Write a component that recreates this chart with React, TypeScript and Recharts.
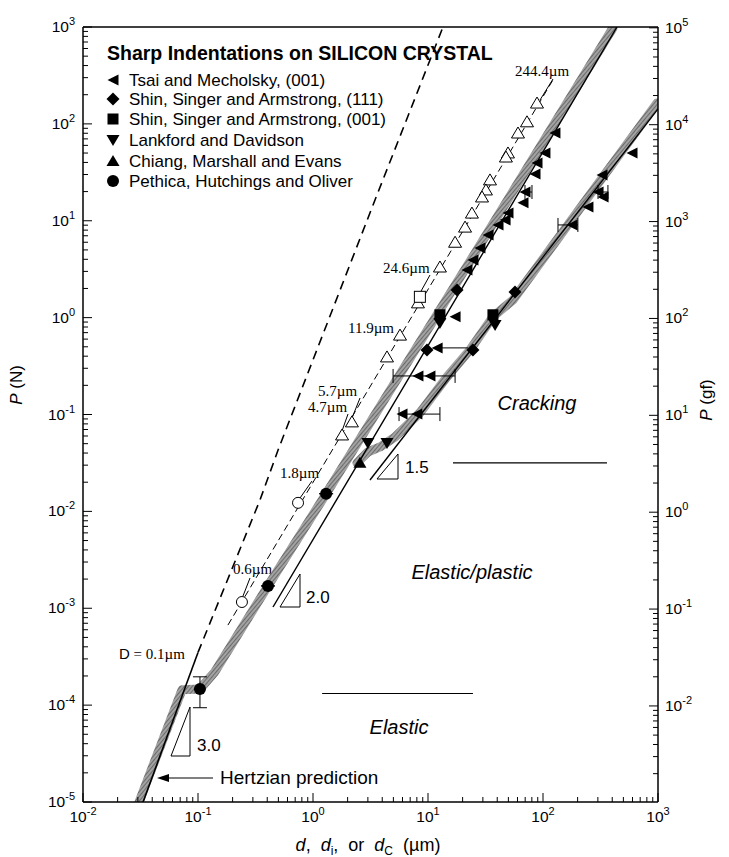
import React from "react";
import { ComposedChart, Line, Scatter, XAxis, YAxis, ReferenceLine, ErrorBar, Customized } from "recharts";

const SANS = '"Liberation Sans", Arial, Helvetica, sans-serif';
const SERIF = '"Liberation Serif", "Times New Roman", serif';

// axes: d in µm, P in N (left) and gf (right)
const X_DOMAIN = [0.01, 1000];
const Y_DOMAIN = [1e-5, 1e3];
const GF_PER_N = 101.97;
const GF_DOMAIN = [Y_DOMAIN[0] * GF_PER_N, Y_DOMAIN[1] * GF_PER_N];

// every 1..9 x 10^e inside [lo, hi]
function logTicks(lo: number, hi: number) {
  const out: number[] = [];
  for (let e = Math.floor(Math.log10(lo)); e <= Math.ceil(Math.log10(hi)); e++) {
    for (let m = 1; m <= 9; m++) {
      const v = m * Math.pow(10, e);
      if (v >= lo * 0.999 && v <= hi * 1.001) out.push(v);
    }
  }
  return out;
}
const X_TICKS = logTicks(X_DOMAIN[0], X_DOMAIN[1]);
const Y_TICKS = logTicks(Y_DOMAIN[0], Y_DOMAIN[1]);
const GF_TICKS = logTicks(GF_DOMAIN[0], GF_DOMAIN[1]);

// Hertzian prediction: solid up to D = 0.1 µm, dashed above
const hertzSolid = [
  { d: 0.0333, p: 1e-5 },
  { d: 0.1, p: 3.5e-4 },
];
const hertzDashed = [
  { d: 0.1, p: 3.5e-4 },
  { d: 0.346, p: 0.0131 },
  { d: 0.497, p: 0.043 },
  { d: 3.46, p: 16.4 },
  { d: 13.5, p: 1000 },
];

// grey bands
const bandUpper = [
  { d: 0.0307, p: 1e-5 },
  { d: 0.0726, p: 1.44e-4 },
  { d: 0.104, p: 1.47e-4 },
  { d: 0.14, p: 2.2e-4 },
  { d: 0.406, p: 1.7e-3 },
  { d: 1.3, p: 0.0152 },
  { d: 26.7, p: 5.0 },
  { d: 406, p: 980 },
];
const bandLower = [
  { d: 2.41, p: 0.0317 },
  { d: 3.0, p: 0.041 },
  { d: 3.83, p: 0.0463 },
  { d: 5.17, p: 0.0587 },
  { d: 8.5, p: 0.104 },
  { d: 14.6, p: 0.244 },
  { d: 23.2, p: 0.464 },
  { d: 36.7, p: 1.02 },
  { d: 54.8, p: 1.52 },
  { d: 980, p: 164 },
];

// slope 2.0 and 1.5 reference lines
const lineSlope2 = [
  { d: 0.449, p: 1.03e-3 },
  { d: 440, p: 1000 },
];
const lineSlope15 = [
  { d: 3.13, p: 0.0211 },
  { d: 1000, p: 143 },
];
// thin dashed line through the open symbols
const lineOpen = [
  { d: 0.182, p: 6.7e-4 },
  { d: 122, p: 284 },
];

// Tsai and Mecholsky, (001)
const tsai = [
  { d: 127, p: 80.5 }, { d: 104, p: 50.1 }, { d: 88.7, p: 39.5 }, { d: 85.2, p: 30.4 },
  { d: 67.0, p: 15.3 }, { d: 49.6, p: 12.0 }, { d: 46.8, p: 10.2 }, { d: 40.6, p: 9.05 },
  { d: 33.3, p: 7.13 }, { d: 28.3, p: 5.24 }, { d: 24.6, p: 3.94 }, { d: 21.8, p: 3.1 },
  { d: 17.2, p: 1.02 }, { d: 10.4, p: 0.25 }, { d: 8.0, p: 0.101 },
  { d: 594, p: 50.1 }, { d: 326, p: 29.7 }, { d: 333, p: 17.6 }, { d: 246, p: 13.9 },
];
const tsaiBars = [
  { d: 8.18, p: 0.25, ex: [3.21, 9.02] },
  { d: 5.94, p: 0.101, ex: [0.34, 6.76] },
  { d: 179, p: 9.05, ex: [44, 22] },
  { d: 301, p: 19.8, ex: [0, 66] },
  { d: 69.7, p: 19.8, ex: [0, 10.5] },
];
const tsaiArrow = [{ d: 12.0, p: 0.487, ex: [0, 10.3] }];

const shin111 = [
  { d: 17.9, p: 1.93 }, { d: 9.8, p: 0.464 }, { d: 24.6, p: 0.464 }, { d: 57.1, p: 1.84 },
];
const shin001 = [
  { d: 12.7, p: 1.07 }, { d: 36.7, p: 1.07 },
];
const lankford = [
  { d: 12.7, p: 0.88 }, { d: 38.3, p: 0.84 }, { d: 3.0, p: 0.0509 }, { d: 4.4, p: 0.0509 },
];
const chiang = [{ d: 2.56, p: 0.0317 }];
const pethica = [
  { d: 0.104, p: 1.47e-4, ey: [5.3e-5, 4.9e-5] },
  { d: 0.406, p: 1.7e-3, ey: [0, 0] },
  { d: 1.3, p: 0.0152, ey: [0, 0] },
];

// open symbols on the thin dashed line
const openTri = [
  { d: 88.7, p: 164 }, { d: 72.6, p: 105 }, { d: 60.6, p: 80.5 }, { d: 49.6, p: 50.1 },
  { d: 47.6, p: 45.5 }, { d: 34.6, p: 26.4 }, { d: 31.9, p: 20.8 }, { d: 29.5, p: 17.6 },
  { d: 24.1, p: 12.0 }, { d: 21.0, p: 8.6 }, { d: 17.2, p: 6.0 }, { d: 12.7, p: 3.33 },
  { d: 8.18, p: 1.42 }, { d: 5.71, p: 0.66 }, { d: 4.4, p: 0.393 }, { d: 2.18, p: 0.0839 },
  { d: 1.79, p: 0.0615 },
];
const openSquare = [{ d: 8.5, p: 1.64 }];
const openCircle = [
  { d: 0.741, p: 0.01225 }, { d: 0.241, p: 1.16e-3 },
];

// region boundaries
const crackLine = { p: 0.0317, from: 16.5, to: 360 };
const elasticLine = { p: 1.32e-4, from: 1.2, to: 24.6 };

const LEGEND_LABELS = [
  "Tsai and Mecholsky, (001)",
  "Shin, Singer and Armstrong, (111)",
  "Shin, Singer and Armstrong, (001)",
  "Lankford and Davidson",
  "Chiang, Marshall and Evans",
  "Pethica, Hutchings and Oliver",
];

const MARK = {
  left: (cx: number, cy: number) => (
    <polygon points={`${cx - 5.5},${cy} ${cx + 5.5},${cy - 5.5} ${cx + 5.5},${cy + 5.5}`} fill="#000" />
  ),
  diamond: (cx: number, cy: number) => (
    <polygon points={`${cx},${cy - 6.5} ${cx + 6.5},${cy} ${cx},${cy + 6.5} ${cx - 6.5},${cy}`} fill="#000" />
  ),
  square: (cx: number, cy: number) => <rect x={cx - 5.5} y={cy - 5.5} width={11} height={11} fill="#000" />,
  down: (cx: number, cy: number) => (
    <polygon points={`${cx - 6.5},${cy - 5} ${cx + 6.5},${cy - 5} ${cx},${cy + 6}`} fill="#000" />
  ),
  up: (cx: number, cy: number) => (
    <polygon points={`${cx - 6.5},${cy + 5} ${cx + 6.5},${cy + 5} ${cx},${cy - 6}`} fill="#000" />
  ),
  dot: (cx: number, cy: number) => <circle cx={cx} cy={cy} r={6} fill="#000" />,
  openUp: (cx: number, cy: number) => (
    <polygon points={`${cx - 6.5},${cy + 5} ${cx + 6.5},${cy + 5} ${cx},${cy - 6}`} fill="#fff" stroke="#000" strokeWidth={1} />
  ),
  openSquare: (cx: number, cy: number) => (
    <rect x={cx - 5.5} y={cy - 5.5} width={11} height={11} fill="#fff" stroke="#000" strokeWidth={1} />
  ),
  openDot: (cx: number, cy: number) => <circle cx={cx} cy={cy} r={5.5} fill="#fff" stroke="#000" strokeWidth={1} />,
};
const LEGEND_MARKS = [MARK.left, MARK.diamond, MARK.square, MARK.down, MARK.up, MARK.dot];

const isMajor = (v: number) => {
  const e = Math.round(Math.log10(v));
  return Math.abs(v / Math.pow(10, e) - 1) < 1e-6;
};
const expOf = (v: number) => Math.round(Math.log10(v));

const Pow = ({ x, y, v, anchor }: { x: number; y: number; v: number; anchor: "start" | "middle" | "end" }) => (
  <text x={x} y={y} textAnchor={anchor} fontFamily={SANS} fontSize={15.5} fill="#000">
    10
    <tspan dy={-7} fontSize={11}>
      {expOf(v)}
    </tspan>
  </text>
);

function BottomTick(props: any) {
  const { x, y, payload } = props;
  const major = isMajor(payload.value);
  return (
    <g>
      <line x1={x} x2={x} y1={y} y2={y - (major ? 9 : 5)} stroke="#000" strokeWidth={1} />
      {major && <Pow x={x} y={y + 20} v={payload.value} anchor="middle" />}
    </g>
  );
}
function TopTick(props: any) {
  const { x, y, payload } = props;
  const major = isMajor(payload.value);
  return <line x1={x} x2={x} y1={y} y2={y + (major ? 9 : 5)} stroke="#000" strokeWidth={1} />;
}
function LeftTick(props: any) {
  const { x, y, payload } = props;
  const major = isMajor(payload.value);
  return (
    <g>
      <line x1={x} x2={x + (major ? 9 : 5)} y1={y} y2={y} stroke="#000" strokeWidth={1} />
      {major && <Pow x={x - 8} y={y + 5} v={payload.value} anchor="end" />}
    </g>
  );
}
function RightTick(props: any) {
  const { x, y, payload } = props;
  const major = isMajor(payload.value);
  return (
    <g>
      <line x1={x} x2={x - (major ? 9 : 5)} y1={y} y2={y} stroke="#000" strokeWidth={1} />
      {major && <Pow x={x + 7} y={y + 5} v={payload.value} anchor="start" />}
    </g>
  );
}

function Annotations() {
  const thin = { stroke: "#000", strokeWidth: 1, fill: "none" };
  const serif = { fontFamily: SERIF, fontSize: 15, fill: "#000" };
  const sans = { fontFamily: SANS, fill: "#000" };
  return (
    <g>
      {/* legend */}
      <text x={107} y={60} {...sans} fontSize={19.5} fontWeight="bold">
        Sharp Indentations on SILICON CRYSTAL
      </text>
      {LEGEND_LABELS.map((label, i) => {
        const y = [80, 99, 119, 140, 161, 181][i];
        return (
          <g key={label}>
            {LEGEND_MARKS[i](113, y)}
            <text x={129} y={y + 6} {...sans} fontSize={17}>
              {label}
            </text>
          </g>
        );
      })}

      {/* depth labels with leaders */}
      <text x={515} y={76} {...serif}>244.4µm</text>
      <line x1={553} y1={79} x2={540} y2={100} {...thin} />
      <text x={383} y={273} {...serif}>24.6µm</text>
      <line x1={430} y1={275} x2={420} y2={293} {...thin} />
      <text x={348} y={333} {...serif}>11.9µm</text>
      <text x={318} y={396} {...serif}>5.7µm</text>
      <line x1={360} y1={398} x2={352} y2={418} {...thin} />
      <text x={308} y={412} {...serif}>4.7µm</text>
      <line x1={348} y1={414} x2={342} y2={431} {...thin} />
      <text x={280} y={478} {...serif}>1.8µm</text>
      <line x1={312} y1={481} x2={300} y2={498} {...thin} />
      <text x={233} y={574} {...serif}>0.6µm</text>
      <line x1={250} y1={578} x2={243} y2={596} {...thin} />
      <text x={119} y={659} {...serif}>
        <tspan fontFamily={SANS}>D</tspan> = 0.1µm
      </text>

      {/* slope triangles */}
      <polygon points="171,756 190,707 190,756" {...thin} />
      <text x={197} y={751} {...sans} fontSize={17}>3.0</text>
      <polygon points="280,607 300,574 300,607" {...thin} />
      <text x={306} y={603} {...sans} fontSize={17}>2.0</text>
      <polygon points="377,479 398,454 398,479" {...thin} />
      <text x={405} y={473} {...sans} fontSize={17}>1.5</text>

      {/* Hertzian arrow */}
      <line x1={213} y1={778} x2={166} y2={778} {...thin} />
      <polygon points="157,778 169,774 169,782" fill="#000" />
      <text x={220} y={784} {...sans} fontSize={19}>Hertzian prediction</text>

      {/* regions */}
      <text x={537} y={410} {...sans} fontSize={20} fontStyle="italic" textAnchor="middle">Cracking</text>
      <text x={472} y={579} {...sans} fontSize={20} fontStyle="italic" textAnchor="middle">Elastic/plastic</text>
      <text x={399} y={734} {...sans} fontSize={20} fontStyle="italic" textAnchor="middle">Elastic</text>

      {/* axis titles */}
      <text x={368} y={851} {...sans} fontSize={18} textAnchor="middle" style={{ whiteSpace: "pre" }}>
        <tspan fontStyle="italic">d</tspan>
        <tspan>{",  "}</tspan>
        <tspan fontStyle="italic">d</tspan>
        <tspan dy={4} fontSize={12}>i</tspan>
        <tspan dy={-4}>{",  or  "}</tspan>
        <tspan fontStyle="italic">d</tspan>
        <tspan dy={4} fontSize={12}>C</tspan>
        <tspan dy={-4}>{"  (µm)"}</tspan>
      </text>
      <text x={22} y={385} {...sans} fontSize={17} textAnchor="middle" transform="rotate(-90 22 385)">
        <tspan fontStyle="italic">P</tspan>
        {" (N)"}
      </text>
      <text x={712} y={400} {...sans} fontSize={17} textAnchor="middle" transform="rotate(-90 712 400)">
        <tspan fontStyle="italic">P</tspan>
        {" (gf)"}
      </text>
    </g>
  );
}

const ax = { xAxisId: "b", yAxisId: "l" };

export default function App() {
  return (
    <div style={{ position: "absolute", left: 0, top: 0, width: 729, height: 857, background: "#fff" }}>
      <svg width={0} height={0} style={{ position: "absolute" }}>
        <defs>
          <pattern id="bandHatch" width={3} height={3} patternUnits="userSpaceOnUse" patternTransform="rotate(40)">
            <rect width={3} height={3} fill="#a4a4a4" />
            <line x1={0.5} y1={0} x2={0.5} y2={3} stroke="#6a6a6a" strokeWidth={1.1} />
          </pattern>
        </defs>
      </svg>
      <ComposedChart width={729} height={857} margin={{ top: 0, right: 0, bottom: 0, left: 0 }}>
        <XAxis
          xAxisId="b"
          type="number"
          dataKey="d"
          scale="log"
          domain={X_DOMAIN}
          allowDataOverflow
          ticks={X_TICKS}
          interval={0}
          tickLine={false}
          tickSize={0}
          tickMargin={0}
          axisLine={{ stroke: "#000", strokeWidth: 1.5 }}
          height={55}
          tick={BottomTick}
        />
        <XAxis
          xAxisId="t"
          orientation="top"
          type="number"
          scale="log"
          domain={X_DOMAIN}
          allowDataOverflow
          ticks={X_TICKS}
          interval={0}
          tickLine={false}
          tickSize={0}
          tickMargin={0}
          axisLine={{ stroke: "#000", strokeWidth: 1.5 }}
          height={27}
          tick={TopTick}
        />
        <YAxis
          yAxisId="l"
          type="number"
          dataKey="p"
          scale="log"
          domain={Y_DOMAIN}
          allowDataOverflow
          ticks={Y_TICKS}
          interval={0}
          tickLine={false}
          tickSize={0}
          tickMargin={0}
          axisLine={{ stroke: "#000", strokeWidth: 1.5 }}
          width={83}
          tick={LeftTick}
        />
        <YAxis
          yAxisId="r"
          orientation="right"
          type="number"
          scale="log"
          domain={GF_DOMAIN}
          allowDataOverflow
          ticks={GF_TICKS}
          interval={0}
          tickLine={false}
          tickSize={0}
          tickMargin={0}
          axisLine={{ stroke: "#000", strokeWidth: 1.5 }}
          width={71}
          tick={RightTick}
        />

        <Line {...ax} data={bandUpper} dataKey="p" stroke="url(#bandHatch)" strokeWidth={9} strokeLinecap="round" strokeLinejoin="round" dot={false} isAnimationActive={false} />
        <Line {...ax} data={bandLower} dataKey="p" stroke="url(#bandHatch)" strokeWidth={9} strokeLinecap="round" strokeLinejoin="round" dot={false} isAnimationActive={false} />
        <Line {...ax} data={hertzSolid} dataKey="p" stroke="#000" strokeWidth={1.6} dot={false} isAnimationActive={false} />
        <Line {...ax} data={hertzDashed} dataKey="p" stroke="#000" strokeWidth={1.6} strokeDasharray="9 6" dot={false} isAnimationActive={false} />
        <Line {...ax} data={lineSlope2} dataKey="p" stroke="#000" strokeWidth={1.4} dot={false} isAnimationActive={false} />
        <Line {...ax} data={lineSlope15} dataKey="p" stroke="#000" strokeWidth={1.4} dot={false} isAnimationActive={false} />
        <Line {...ax} data={lineOpen} dataKey="p" stroke="#000" strokeWidth={1} strokeDasharray="7 4" dot={false} isAnimationActive={false} />

        <ReferenceLine {...ax} segment={[{ x: crackLine.from, y: crackLine.p }, { x: crackLine.to, y: crackLine.p }]} stroke="#000" strokeWidth={1.1} ifOverflow="visible" />
        <ReferenceLine {...ax} segment={[{ x: elasticLine.from, y: elasticLine.p }, { x: elasticLine.to, y: elasticLine.p }]} stroke="#000" strokeWidth={1.1} ifOverflow="visible" />

        <Scatter {...ax} data={openTri} shape={(s: any) => MARK.openUp(s.cx, s.cy)} isAnimationActive={false} />
        <Scatter {...ax} data={openSquare} shape={(s: any) => MARK.openSquare(s.cx, s.cy)} isAnimationActive={false} />
        <Scatter {...ax} data={openCircle} shape={(s: any) => MARK.openDot(s.cx, s.cy)} isAnimationActive={false} />

        <Scatter {...ax} data={tsaiBars} shape={(s: any) => MARK.left(s.cx, s.cy)} isAnimationActive={false}>
          <ErrorBar dataKey="ex" direction="x" width={7} stroke="#000" strokeWidth={1} isAnimationActive={false} />
        </Scatter>
        <Scatter {...ax} data={tsaiArrow} shape={(s: any) => MARK.left(s.cx, s.cy)} isAnimationActive={false}>
          <ErrorBar dataKey="ex" direction="x" width={0} stroke="#000" strokeWidth={1} isAnimationActive={false} />
        </Scatter>
        <Scatter {...ax} data={tsai} shape={(s: any) => MARK.left(s.cx, s.cy)} isAnimationActive={false} />
        <Scatter {...ax} data={shin111} shape={(s: any) => MARK.diamond(s.cx, s.cy)} isAnimationActive={false} />
        <Scatter {...ax} data={shin001} shape={(s: any) => MARK.square(s.cx, s.cy)} isAnimationActive={false} />
        <Scatter {...ax} data={lankford} shape={(s: any) => MARK.down(s.cx, s.cy)} isAnimationActive={false} />
        <Scatter {...ax} data={chiang} shape={(s: any) => MARK.up(s.cx, s.cy)} isAnimationActive={false} />
        <Scatter {...ax} data={pethica} shape={(s: any) => MARK.dot(s.cx, s.cy)} isAnimationActive={false}>
          <ErrorBar dataKey="ey" direction="y" width={7} stroke="#000" strokeWidth={1} isAnimationActive={false} />
        </Scatter>

        <Customized component={Annotations} />
      </ComposedChart>
    </div>
  );
}
